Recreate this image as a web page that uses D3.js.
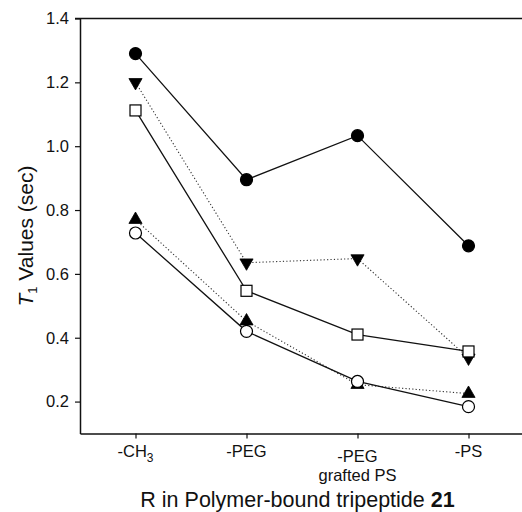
<!DOCTYPE html>
<html><head><meta charset="utf-8">
<script src="https://cdn.jsdelivr.net/npm/d3@7"></script>
<style>
html,body{margin:0;padding:0;background:#fff;}
svg{display:block;font-family:"Liberation Sans",Arial,sans-serif;}
</style></head>
<body><svg id="c" width="522" height="512"></svg>
<script>
const categories = ["-CH3", "-PEG", "-PEG grafted PS", "-PS"];
const filledCircle = [1.29, 0.895, 1.033, 0.688];
const downTriangle = [1.20, 0.635, 0.648, 0.337];
const openSquare   = [1.112, 0.547, 0.41, 0.357];
const upTriangle   = [0.77, 0.452, 0.253, 0.225];
const openCircle   = [0.728, 0.42, 0.263, 0.184];
const yTicks = [0.2, 0.4, 0.6, 0.8, 1.0, 1.2, 1.4];

const svg = d3.select("#c");
const L = 80, R = 524, T = 18.5, B = 433.5;
const x = d3.scalePoint().domain(categories).range([L, R]).padding(0.5);
const y = d3.scaleLinear().domain([0.1, 1.4]).range([B, T]);

// frame top
svg.append("line").attr("x1", L - 5).attr("x2", 522).attr("y1", T).attr("y2", T)
  .attr("stroke", "#111").attr("stroke-width", 1.5);

const yAxis = svg.append("g").attr("transform", `translate(${L},0)`)
  .call(d3.axisLeft(y).tickValues(yTicks).tickSize(5).tickSizeOuter(0).tickPadding(6).tickFormat(d3.format(".1f")));
yAxis.select(".domain").attr("stroke", "#111").attr("stroke-width", 1.5);
yAxis.selectAll(".tick line").attr("stroke", "#111").attr("stroke-width", 1.2);
yAxis.selectAll(".tick text").attr("font-size", 16.5).attr("fill", "#111").attr("font-family", "Liberation Sans, Arial, sans-serif");

const xAxis = svg.append("g").attr("transform", `translate(0,${B})`)
  .call(d3.axisBottom(x).tickSize(5).tickSizeOuter(0).tickFormat(""));
xAxis.select(".domain").attr("stroke", "#111").attr("stroke-width", 1.5);
xAxis.selectAll(".tick line").attr("stroke", "#111").attr("stroke-width", 1.2);

// x tick labels
const labG = svg.append("g").attr("font-size", 16.5).attr("fill", "#111").attr("text-anchor", "middle");
categories.forEach((c, i) => {
  const t = labG.append("text").attr("x", x(c));
  if (c === "-CH3") {
    t.attr("y", 457);
    t.append("tspan").text("-CH");
    t.append("tspan").attr("font-size", 12).attr("dy", 5).text("3");
  } else if (c === "-PEG grafted PS") {
    t.attr("y", 462);
    t.append("tspan").attr("x", x(c)).text("-PEG");
    t.append("tspan").attr("x", x(c)).attr("dy", 19).text("grafted PS");
  } else {
    t.attr("y", 457).text(c);
  }
});

// axis titles
const yt = svg.append("text").attr("transform", "translate(33,236) rotate(-90)")
  .attr("text-anchor", "middle").attr("font-size", 21).attr("fill", "#111");
yt.append("tspan").attr("font-style", "italic").text("T");
yt.append("tspan").attr("font-size", 13).attr("dy", 4).text("1");
yt.append("tspan").attr("dy", -4).text(" Values (sec)");

const xt = svg.append("text").attr("x", 297.5).attr("y", 507).attr("text-anchor", "middle")
  .attr("font-size", 21.5).attr("fill", "#111");
xt.append("tspan").text("R in Polymer-bound tripeptide ");
xt.append("tspan").attr("font-weight", "bold").text("21");

// series
const series = [
  {v: filledCircle, dash: null, shape: "circle", fill: "#000"},
  {v: downTriangle, dash: "1.2,2.2", shape: "down", fill: "#000"},
  {v: openSquare, dash: null, shape: "square", fill: "#fff"},
  {v: upTriangle, dash: "1.2,2.2", shape: "up", fill: "#000"},
  {v: openCircle, dash: null, shape: "circle", fill: "#fff"}
];
const line = d3.line().x((d, i) => x(categories[i])).y(d => y(d));
series.forEach(s => {
  svg.append("path").datum(s.v).attr("d", line).attr("fill", "none")
    .attr("stroke", s.dash ? "#333" : "#111").attr("stroke-width", s.dash ? 1.1 : 1.3)
    .attr("stroke-dasharray", s.dash);
});
series.forEach(s => {
  const g = svg.append("g");
  s.v.forEach((d, i) => {
    const cx = x(categories[i]), cy = y(d);
    if (s.shape === "circle") {
      g.append("circle").attr("cx", cx).attr("cy", cy).attr("r", 6)
        .attr("fill", s.fill).attr("stroke", "#000").attr("stroke-width", 1.2);
    } else if (s.shape === "square") {
      g.append("rect").attr("x", cx - 5.5).attr("y", cy - 5.5).attr("width", 11).attr("height", 11)
        .attr("fill", s.fill).attr("stroke", "#000").attr("stroke-width", 1.2);
    } else {
      const sym = d3.symbol().type(d3.symbolTriangle).size(75);
      g.append("path").attr("d", sym())
        .attr("transform", `translate(${cx},${cy}) rotate(${s.shape === "down" ? 180 : 0})`)
        .attr("fill", s.fill).attr("stroke", "#000").attr("stroke-width", 0.8);
    }
  });
});
</script></body></html>
